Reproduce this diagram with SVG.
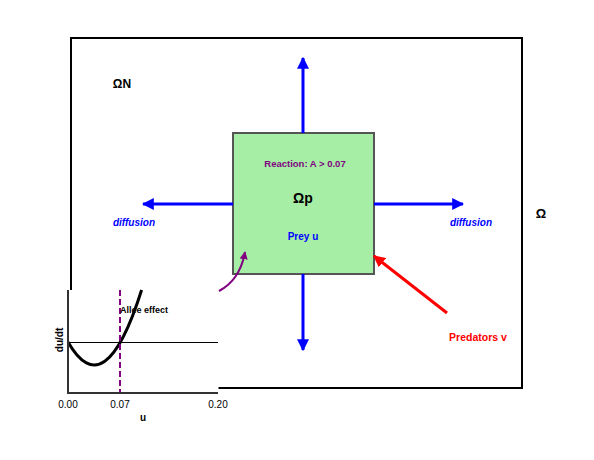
<svg xmlns="http://www.w3.org/2000/svg" width="594" height="460" viewBox="0 0 594 460">
<defs>
<style>
text{font-family:"Liberation Sans",Arial,sans-serif;font-weight:bold}
.blue{stroke:#0000ff;stroke-width:3;fill:none}
.lbl{font-size:10px;text-anchor:middle}
.tick{font-size:10px;text-anchor:middle;font-weight:normal}
</style>
<marker id="ab" viewBox="0 0 10 10" refX="9" refY="5" markerWidth="4" markerHeight="4" orient="auto" markerUnits="strokeWidth"><path d="M0,0 L10,5 L0,10 z" fill="#0000ff"/></marker>
<marker id="ar" viewBox="0 0 10 10" refX="9" refY="5" markerWidth="4" markerHeight="4" orient="auto" markerUnits="strokeWidth"><path d="M0,0 L10,5 L0,10 z" fill="#ff0000"/></marker>
<marker id="ap" viewBox="0 0 10 10" refX="9" refY="5" markerWidth="4" markerHeight="4" orient="auto" markerUnits="strokeWidth"><path d="M0,0 L10,5 L0,10 z" fill="#800080"/></marker>
</defs>
<rect width="594" height="460" fill="#fff"/>
<g id="omega">
<rect x="71" y="38" width="451" height="350" fill="none" stroke="#000" stroke-width="2"/>
<text x="541" y="218" font-size="13" text-anchor="middle">Ω</text>
</g>
<g id="omegaN"><text x="122" y="88" font-size="12" text-anchor="middle">ΩN</text></g>
<g id="omegaP">
<rect x="233" y="133" width="141" height="141" fill="#a6eea6" stroke="#555" stroke-width="2"/>
<text x="305" y="167" font-size="9.5" text-anchor="middle" fill="#800080">Reaction: A &gt; 0.07</text>
<text x="303" y="203" font-size="14" text-anchor="middle">Ωp</text>
<text class="lbl" x="303" y="240" fill="#0000ff">Prey u</text>
</g>
<g id="diffL"><text class="lbl" x="134" y="226" fill="#0000ff" font-style="italic">diffusion</text></g>
<g id="diffR"><text class="lbl" x="471" y="226" fill="#0000ff" font-style="italic">diffusion</text></g>
<g id="predators"><text x="478" y="341" font-size="10.5" text-anchor="middle" fill="#ff0000">Predators v</text></g>
<g id="plot">
<rect x="40" y="290" width="178.5" height="140" fill="#fff"/>
<line x1="68" y1="342.5" x2="218" y2="342.5" stroke="#000" stroke-width="1"/>
<path d="M68,342 Q104.8,406.5 141.6,290" stroke="#000" stroke-width="3" fill="none"/>
<line x1="120" y1="290" x2="120" y2="393" stroke="#800080" stroke-width="2" stroke-dasharray="6,3"/>
<line x1="68" y1="290" x2="68" y2="393" stroke="#333" stroke-width="2"/>
<line x1="67" y1="393" x2="218" y2="393" stroke="#333" stroke-width="2"/>
<text x="144" y="313" font-size="9" text-anchor="middle">Allee effect</text>
<text x="0" y="0" font-size="10" text-anchor="middle" transform="translate(63,340) rotate(-90)">du/dt</text>
<text class="tick" x="68" y="408">0.00</text>
<text class="tick" x="120" y="408">0.07</text>
<text class="tick" x="218" y="408">0.20</text>
<text x="143" y="421" font-size="10" text-anchor="middle">u</text>
</g>
<g id="connectors">
<line class="blue" x1="303" y1="133" x2="303" y2="58" marker-end="url(#ab)"/>
<line class="blue" x1="303" y1="274" x2="303" y2="350" marker-end="url(#ab)"/>
<line class="blue" x1="233" y1="204" x2="143" y2="204" marker-end="url(#ab)"/>
<line class="blue" x1="374" y1="204" x2="463" y2="204" marker-end="url(#ab)"/>
<line x1="447" y1="313" x2="374" y2="256" stroke="#ff0000" stroke-width="3" marker-end="url(#ar)"/>
<path d="M219,291 Q240,280 245,252" stroke="#800080" stroke-width="2" fill="none" marker-end="url(#ap)"/>
</g>
</svg>
